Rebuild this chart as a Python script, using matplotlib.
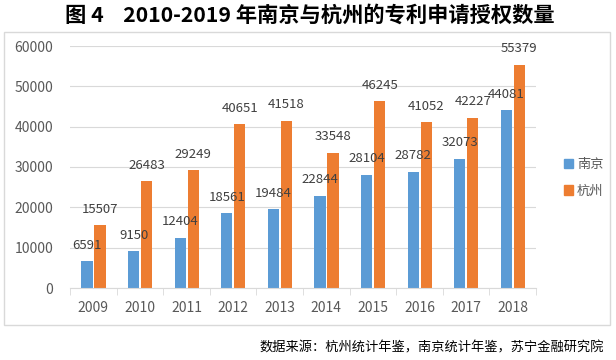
import matplotlib

matplotlib.use("Agg")
import matplotlib.pyplot as plt
from matplotlib.patches import Rectangle, Patch
import numpy as np

plt.rcParams["font.family"] = ["Noto Sans CJK SC", "DejaVu Sans"]

TITLE = "图 4    2010-2019 年南京与杭州的专利申请授权数量"
SOURCE = "数据来源：杭州统计年鉴，南京统计年鉴，苏宁金融研究院"

years = ["2009", "2010", "2011", "2012", "2013", "2014", "2015", "2016", "2017", "2018"]
nanjing = [6591, 9150, 12404, 18561, 19484, 22844, 28104, 28782, 32073, 44081]
hangzhou = [15507, 26483, 29249, 40651, 41518, 33548, 46245, 41052, 42227, 55379]
series_names = ["南京", "杭州"]

BLUE = "#5B9BD5"
ORANGE = "#ED7D31"
TXT = "#595959"
GRID = "#D9D9D9"

W, H = 616, 360
fig = plt.figure(figsize=(W / 100, H / 100), dpi=100)

# chart frame
fig.patches.append(Rectangle((4 / W, 1 - 325 / H), 606 / W, 293 / H,
                             transform=fig.transFigure, fill=False,
                             edgecolor=GRID, linewidth=1.0))

ax = fig.add_axes([70 / W, 1 - 288 / H, (536 - 70) / W, (288 - 46) / H])
x = np.arange(len(years))
bw = 0.24
b1 = ax.bar(x - 0.135, nanjing, width=bw, color=BLUE, zorder=2)
b2 = ax.bar(x + 0.145, hangzhou, width=bw, color=ORANGE, zorder=2)

for bars, vals in ((b1, nanjing), (b2, hangzhou)):
    for rect, v in zip(bars, vals):
        ax.annotate(str(v), (rect.get_x() + rect.get_width() / 2, v),
                    xytext=(0, 11.5), textcoords="offset points",
                    ha="center", va="center", fontsize=9.5, color="#404040",
                    zorder=3)

ax.set_xlim(-0.5, len(years) - 0.5)
ax.set_ylim(0, 60000)
ax.set_yticks(range(0, 60001, 10000))
ax.set_xticks(x)
ax.set_xticklabels(years)
ax.set_xticks(np.arange(-0.5, len(years)), minor=True)
ax.tick_params(axis="x", which="major", length=0, labelsize=10,
               labelcolor=TXT, pad=9)
ax.tick_params(axis="x", which="minor", length=5, color=GRID)
ax.tick_params(axis="y", length=0, labelsize=10, labelcolor=TXT, pad=12)
ax.grid(axis="y", color=GRID, linewidth=0.8, zorder=0)
for s in ("top", "right", "left"):
    ax.spines[s].set_visible(False)
ax.spines["bottom"].set_color(GRID)

handles = [Patch(color=BLUE), Patch(color=ORANGE)]
fig.legend(handles, series_names, loc="center left",
           bbox_to_anchor=(552 / W, 1 - 178 / H), frameon=False,
           handlelength=0.7, handleheight=0.7, handletextpad=0.3,
           labelspacing=1.0, fontsize=9.5, labelcolor=TXT)

fig.text(310 / W, 1 - 15 / H, TITLE, ha="center", va="center",
         fontsize=15.3, fontweight="bold", color="black")
fig.text(604 / W, 1 - 348 / H, SOURCE, ha="right", va="center",
         fontsize=9.5, style="italic", color="black")

fig.savefig("out.png", dpi=100)
